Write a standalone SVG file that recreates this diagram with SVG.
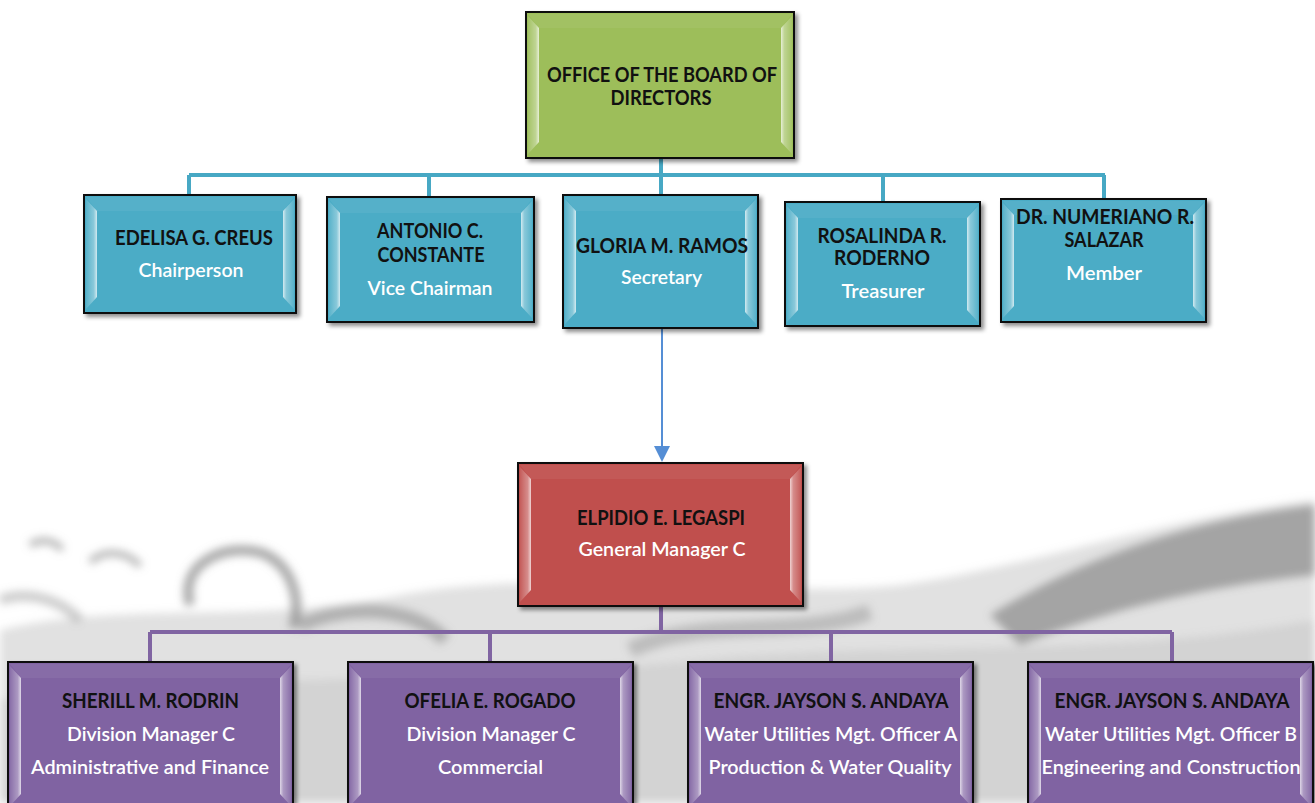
<svg xmlns="http://www.w3.org/2000/svg" width="1315" height="803" viewBox="0 0 1315 803">
<defs>
<style>
.box{stroke:#111;stroke-width:2}
.green{fill:#9dbe5a}.aqua{fill:#4bacc6}.red{fill:#c0504d}.purple{fill:#8064a2}
.bl{fill:url(#gL)}.br{fill:url(#gR)}.bt{fill:#fff;fill-opacity:.06}
.n{font-family:Lato,"Liberation Sans",sans-serif;font-size:20px;font-weight:bold;fill:#111;text-anchor:middle}
.t{font-family:Lato,"Liberation Sans",sans-serif;font-size:20px;font-weight:600;fill:#fff;text-anchor:middle}
.c1{fill:none;stroke:#47a8c4;stroke-width:4}
.c2{fill:none;stroke:#8064a2;stroke-width:4}
.arr{fill:none;stroke:#558ed5;stroke-width:2}
.bg{fill:#a8a8a8}
</style>
<linearGradient id="gL" x1="0" y1="0" x2="1" y2="0">
<stop offset="0" stop-color="#fff" stop-opacity=".08"/>
<stop offset=".7" stop-color="#fff" stop-opacity=".35"/>
<stop offset="1" stop-color="#fff" stop-opacity=".75"/>
</linearGradient>
<linearGradient id="gR" x1="0" y1="0" x2="1" y2="0">
<stop offset="0" stop-color="#fff" stop-opacity=".75"/>
<stop offset=".3" stop-color="#fff" stop-opacity=".35"/>
<stop offset="1" stop-color="#fff" stop-opacity=".08"/>
</linearGradient>
<filter id="sh" x="-10%" y="-10%" width="125%" height="125%">
<feDropShadow dx="3" dy="3" stdDeviation="2" flood-color="#000" flood-opacity=".45"/>
</filter>
<filter id="blur" x="-20%" y="-20%" width="140%" height="140%">
<feGaussianBlur stdDeviation="4"/>
</filter>
</defs>

<g id="background" filter="url(#blur)">
<path class="bg" d="M0 630 C120 600 260 625 400 595 C560 565 760 600 900 585 C1040 565 1150 520 1315 500 L1315 803 L0 803 Z" opacity=".35"/>
<path class="bg" d="M0 700 C200 670 400 690 700 660 C900 640 1100 660 1315 620 L1315 803 L0 803 Z" opacity=".25"/>
<path d="M990 615 C1070 565 1180 520 1315 505 L1315 575 C1220 585 1120 605 1020 645 Z" fill="#8a8a8a" opacity=".7"/>
<path d="M190 605 C178 560 230 543 262 553 C292 565 302 600 293 628" fill="none" stroke="#8e8e8e" stroke-width="10" opacity=".75"/>
<path d="M90 562 C105 548 128 552 140 566 M30 545 C42 538 55 540 62 550" fill="none" stroke="#9a9a9a" stroke-width="7" opacity=".7"/>
<path d="M300 625 C360 600 420 612 445 640" fill="none" stroke="#909090" stroke-width="14" opacity=".6"/>
<path d="M630 650 C700 615 800 640 870 612" fill="none" stroke="#9a9a9a" stroke-width="16" opacity=".5"/>
<path d="M0 600 C30 590 60 600 80 620" fill="none" stroke="#9a9a9a" stroke-width="10" opacity=".5"/>
</g>

<g id="connectors">
<path class="c1" d="M661 158 V195 M189 175 H1105 M189 175 V195 M429 175 V197 M883 175 V202 M1104 175 V199"/>
<path class="arr" d="M662 317 V447"/>
<polygon points="654,446 670,446 662,462" fill="#558ed5"/>
<path class="c2" d="M661 606 V632 M150 632 H1172 M150 632 V662 M490 632 V662 M831 632 V662 M1172 632 V662"/>
</g>

<g id="board">
<rect class="box green" x="526" y="12" width="268" height="146" filter="url(#sh)"/>
<polygon class="bt" points="528,14 792,14 781,28 539,28"/>
<polygon class="bl" points="528,16 539,28 539,142 528,154"/>
<polygon class="br" points="781,28 792,16 792,154 781,142"/>
<text class="n" x="662" y="82" textLength="230" lengthAdjust="spacingAndGlyphs">OFFICE OF THE BOARD OF</text>
<text class="n" x="661" y="105" textLength="101" lengthAdjust="spacingAndGlyphs">DIRECTORS</text>
</g>

<g id="creus">
<rect class="box aqua" x="84" y="195" width="212" height="118" filter="url(#sh)"/>
<polygon class="bt" points="86,197 294,197 283,211 97,211"/>
<polygon class="bl" points="86,199 97,211 97,297 86,309"/>
<polygon class="br" points="283,211 294,199 294,309 283,297"/>
<text class="n" x="194" y="245" textLength="158" lengthAdjust="spacingAndGlyphs">EDELISA G. CREUS</text>
<text class="t" x="191" y="277" textLength="105" lengthAdjust="spacingAndGlyphs">Chairperson</text>
</g>

<g id="constante">
<rect class="box aqua" x="327" y="197" width="207" height="125" filter="url(#sh)"/>
<polygon class="bt" points="329,199 532,199 521,213 340,213"/>
<polygon class="bl" points="329,201 340,213 340,306 329,318"/>
<polygon class="br" points="521,213 532,201 532,318 521,306"/>
<text class="n" x="430" y="238" textLength="106" lengthAdjust="spacingAndGlyphs">ANTONIO C.</text>
<text class="n" x="431" y="262" textLength="107" lengthAdjust="spacingAndGlyphs">CONSTANTE</text>
<text class="t" x="430" y="295" textLength="125" lengthAdjust="spacingAndGlyphs">Vice Chairman</text>
</g>

<g id="ramos">
<rect class="box aqua" x="563" y="195" width="195" height="133" filter="url(#sh)"/>
<polygon class="bt" points="565,197 756,197 745,211 576,211"/>
<polygon class="bl" points="565,199 576,211 576,312 565,324"/>
<polygon class="br" points="745,211 756,199 756,324 745,312"/>
<text class="n" x="662" y="253" textLength="172" lengthAdjust="spacingAndGlyphs">GLORIA M. RAMOS</text>
<text class="t" x="661.5" y="284" textLength="81" lengthAdjust="spacingAndGlyphs">Secretary</text>
</g>

<g id="roderno">
<rect class="box aqua" x="785" y="202" width="195" height="124" filter="url(#sh)"/>
<polygon class="bt" points="787,204 978,204 967,218 798,218"/>
<polygon class="bl" points="787,206 798,218 798,310 787,322"/>
<polygon class="br" points="967,218 978,206 978,322 967,310"/>
<text class="n" x="882" y="243" textLength="129" lengthAdjust="spacingAndGlyphs">ROSALINDA R.</text>
<text class="n" x="882" y="265" textLength="96" lengthAdjust="spacingAndGlyphs">RODERNO</text>
<text class="t" x="883" y="298" textLength="83" lengthAdjust="spacingAndGlyphs">Treasurer</text>
</g>

<g id="salazar">
<rect class="box aqua" x="1001" y="199" width="205" height="123" filter="url(#sh)"/>
<polygon class="bt" points="1003,201 1204,201 1193,215 1014,215"/>
<polygon class="bl" points="1003,203 1014,215 1014,306 1003,318"/>
<polygon class="br" points="1193,215 1204,203 1204,318 1193,306"/>
<text class="n" x="1105" y="224" textLength="178" lengthAdjust="spacingAndGlyphs">DR. NUMERIANO R.</text>
<text class="n" x="1104" y="247" textLength="79" lengthAdjust="spacingAndGlyphs">SALAZAR</text>
<text class="t" x="1104" y="280" textLength="76" lengthAdjust="spacingAndGlyphs">Member</text>
</g>

<g id="legaspi">
<rect class="box red" x="518" y="463" width="285" height="143" filter="url(#sh)"/>
<polygon class="bt" points="520,465 801,465 790,479 531,479"/>
<polygon class="bl" points="520,467 531,479 531,590 520,602"/>
<polygon class="br" points="790,479 801,467 801,602 790,590"/>
<text class="n" x="661" y="525" textLength="168" lengthAdjust="spacingAndGlyphs">ELPIDIO E. LEGASPI</text>
<text class="t" x="662" y="556" textLength="167" lengthAdjust="spacingAndGlyphs">General Manager C</text>
</g>

<g id="rodrin">
<rect class="box purple" x="8" y="662" width="285" height="148" filter="url(#sh)"/>
<polygon class="bt" points="10,664 291,664 280,678 21,678"/>
<polygon class="bl" points="10,666 21,678 21,794 10,806"/>
<polygon class="br" points="280,678 291,666 291,806 280,794"/>
<text class="n" x="150.5" y="708" textLength="177" lengthAdjust="spacingAndGlyphs">SHERILL M. RODRIN</text>
<text class="t" x="151" y="741" textLength="168" lengthAdjust="spacingAndGlyphs">Division Manager C</text>
<text class="t" x="150" y="774" textLength="238" lengthAdjust="spacingAndGlyphs">Administrative and Finance</text>
</g>

<g id="rogado">
<rect class="box purple" x="348" y="662" width="285" height="148" filter="url(#sh)"/>
<polygon class="bt" points="350,664 631,664 620,678 361,678"/>
<polygon class="bl" points="350,666 361,678 361,794 350,806"/>
<polygon class="br" points="620,678 631,666 631,806 620,794"/>
<text class="n" x="490" y="708" textLength="171" lengthAdjust="spacingAndGlyphs">OFELIA E. ROGADO</text>
<text class="t" x="491" y="741" textLength="169" lengthAdjust="spacingAndGlyphs">Division Manager C</text>
<text class="t" x="490.5" y="774" textLength="105" lengthAdjust="spacingAndGlyphs">Commercial</text>
</g>

<g id="andaya-a">
<rect class="box purple" x="688" y="662" width="285" height="148" filter="url(#sh)"/>
<polygon class="bt" points="690,664 971,664 960,678 701,678"/>
<polygon class="bl" points="690,666 701,678 701,794 690,806"/>
<polygon class="br" points="960,678 971,666 971,806 960,794"/>
<text class="n" x="831" y="708" textLength="235" lengthAdjust="spacingAndGlyphs">ENGR. JAYSON S. ANDAYA</text>
<text class="t" x="831" y="741" textLength="253" lengthAdjust="spacingAndGlyphs">Water Utilities Mgt. Officer A</text>
<text class="t" x="830" y="774" textLength="243" lengthAdjust="spacingAndGlyphs">Production &amp; Water Quality</text>
</g>

<g id="andaya-b">
<rect class="box purple" x="1028" y="662" width="285" height="148" filter="url(#sh)"/>
<polygon class="bt" points="1030,664 1311,664 1300,678 1041,678"/>
<polygon class="bl" points="1030,666 1041,678 1041,794 1030,806"/>
<polygon class="br" points="1300,678 1311,666 1311,806 1300,794"/>
<text class="n" x="1172" y="708" textLength="235" lengthAdjust="spacingAndGlyphs">ENGR. JAYSON S. ANDAYA</text>
<text class="t" x="1171" y="741" textLength="252" lengthAdjust="spacingAndGlyphs">Water Utilities Mgt. Officer B</text>
<text class="t" x="1171" y="774" textLength="259" lengthAdjust="spacingAndGlyphs">Engineering and Construction</text>
</g>
</svg>
